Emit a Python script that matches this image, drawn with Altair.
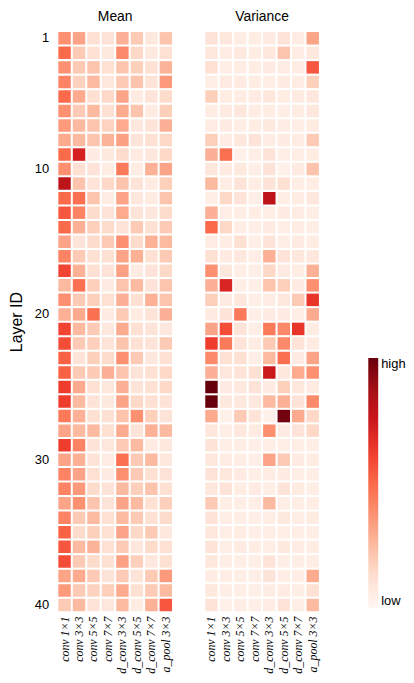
import altair as alt
import pandas as pd

ops = ["conv 1×1", "conv 3×3", "conv 5×5", "conv 7×7",
       "d_conv 3×3", "d_conv 5×5", "d_conv 7×7", "a_pool 3×3"]
layers = list(range(1, 41))
layer_ticks = [1, 10, 20, 30, 40]

# Mean (relative intensity 0..1), one list per operation, layers 1..40
mean_conv1 = [.38,.50,.38,.42,.50,.38,.35,.30,.50,.38, .80,.50,.55,.50,.32,.42,.60,.25,.38,.28,
              .60,.58,.52,.52,.62,.62,.45,.32,.62,.32, .42,.42,.32,.42,.52,.55,.58,.32,.35,.20]
mean_conv3 = [.32,.20,.20,.17,.30,.20,.25,.25,.72,.12, .22,.48,.42,.28,.10,.20,.28,.48,.20,.30,
              .25,.20,.10,.20,.30,.25,.28,.25,.42,.28, .32,.35,.38,.20,.14,.25,.20,.30,.20,.25]
mean_conv5 = [.12,.12,.22,.25,.12,.25,.22,.22,.06,.10, .10,.22,.14,.18,.14,.12,.12,.18,.18,.48,
              .20,.18,.18,.20,.12,.10,.12,.25,.10,.10, .12,.14,.22,.25,.18,.27,.14,.20,.17,.10]
mean_conv7 = [.10,.07,.12,.08,.15,.12,.17,.27,.07,.05, .15,.05,.10,.14,.20,.12,.10,.06,.12,.06,
              .08,.10,.14,.28,.08,.07,.12,.12,.08,.05, .06,.10,.10,.12,.12,.12,.12,.10,.18,.08]
mean_dconv3 = [.28,.40,.22,.20,.32,.30,.30,.33,.14,.45, .22,.32,.30,.10,.38,.32,.33,.22,.28,.20,
               .30,.22,.38,.22,.28,.32,.22,.30,.20,.48, .38,.25,.32,.25,.32,.20,.33,.20,.30,.25]
mean_dconv5 = [.20,.15,.18,.22,.06,.22,.08,.10,.06,.05, .10,.08,.10,.20,.14,.28,.06,.25,.12,.06,
               .12,.12,.20,.10,.10,.15,.38,.10,.25,.20, .20,.18,.25,.20,.15,.08,.18,.10,.12,.05]
mean_dconv7 = [.08,.07,.12,.10,.10,.06,.10,.12,.08,.28, .06,.06,.08,.12,.28,.12,.10,.10,.28,.10,
               .10,.10,.08,.12,.12,.12,.18,.28,.06,.25, .12,.22,.12,.12,.20,.14,.08,.20,.20,.28]
mean_apool3 = [.22,.12,.27,.35,.14,.18,.28,.15,.15,.32, .18,.22,.14,.20,.25,.20,.15,.22,.22,.28,
               .08,.20,.12,.15,.15,.10,.10,.25,.08,.08, .10,.12,.18,.14,.08,.12,.12,.35,.25,.55]

# Variance
var_conv1 = [.10,.08,.12,.04,.18,.05,.05,.18,.28,.08, .25,.04,.28,.50,.05,.12,.38,.28,.18,.06,
             .32,.62,.40,.28,1.0,1.0,.30,.08,.10,.08, .10,.08,.20,.10,.08,.10,.08,.05,.07,.10]
var_conv3 = [.08,.05,.04,.06,.05,.06,.06,.05,.48,.06, .05,.15,.04,.15,.05,.06,.08,.70,.06,.10,
             .58,.45,.12,.08,.06,.07,.03,.04,.04,.05, .08,.10,.04,.04,.04,.04,.04,.04,.04,.03]
var_conv5 = [.05,.07,.05,.06,.05,.08,.04,.08,.03,.07, .10,.10,.04,.04,.12,.08,.04,.04,.08,.45,
             .10,.10,.12,.10,.07,.08,.20,.08,.04,.04, .06,.05,.04,.04,.05,.06,.04,.04,.04,.04]
var_conv7 = [.05,.05,.05,.05,.06,.05,.05,.10,.04,.04, .05,.04,.05,.04,.04,.04,.04,.04,.04,.04,
             .04,.05,.04,.12,.10,.08,.10,.06,.04,.04, .04,.06,.04,.04,.04,.05,.04,.04,.04,.04]
var_dconv3 = [.06,.08,.06,.04,.08,.05,.07,.05,.10,.10, .10,.80,.04,.06,.10,.28,.15,.22,.05,.06,
              .45,.20,.25,.75,.06,.25,.03,.38,.04,.32, .05,.04,.25,.04,.04,.04,.10,.10,.05,.05]
var_dconv5 = [.10,.22,.05,.06,.05,.04,.05,.06,.04,.03, .12,.04,.06,.04,.04,.10,.06,.18,.08,.06,
              .40,.40,.48,.08,.18,.28,.98,.06,.04,.20, .06,.10,.04,.07,.04,.07,.04,.04,.06,.10]
var_dconv7 = [.05,.05,.05,.05,.06,.05,.04,.05,.04,.06, .04,.05,.05,.05,.06,.08,.05,.06,.20,.04,
              .65,.10,.06,.30,.08,.10,.30,.10,.04,.06, .04,.06,.04,.04,.04,.05,.04,.04,.04,.04]
var_apool3 = [.32,.08,.55,.18,.08,.08,.06,.20,.05,.22, .05,.08,.04,.04,.05,.08,.28,.38,.65,.30,
              .05,.06,.32,.38,.06,.40,.15,.15,.04,.05, .04,.04,.05,.06,.04,.05,.05,.30,.12,.25]

# ColorBrewer "Reds" (9 stops, full range from near-white to dark red)
reds_stops = [0, 0.125, 0.25, 0.375, 0.5, 0.625, 0.75, 0.875, 1.0]
reds_colors = ["#fff5f0", "#fee0d2", "#fcbba1", "#fc9272", "#fb6a4a",
               "#ef3b2c", "#cb181d", "#a50f15", "#67000d"]

mean_cols = [mean_conv1, mean_conv3, mean_conv5, mean_conv7,
             mean_dconv3, mean_dconv5, mean_dconv7, mean_apool3]
var_cols = [var_conv1, var_conv3, var_conv5, var_conv7,
            var_dconv3, var_dconv5, var_dconv7, var_apool3]

rows = []
for stat, cols in [("Mean", mean_cols), ("Variance", var_cols)]:
    for op, vals in zip(ops, cols):
        for layer, v in zip(layers, vals):
            rows.append({"stat": stat, "op": op, "layer": layer, "value": v})
df = pd.DataFrame(rows)

SANS = "Liberation Sans"

chart = alt.Chart(df).mark_rect().encode(
    x=alt.X("op:N", sort=ops,
            scale=alt.Scale(paddingInner=0.14, paddingOuter=0.05),
            axis=alt.Axis(title=None, labelAngle=-90, labelFont="Liberation Serif",
                          labelFontStyle="italic", labelFontSize=12, ticks=False,
                          domain=False, labelPadding=4, labelColor="black")),
    y=alt.Y("layer:O", sort=layers,
            scale=alt.Scale(paddingInner=0.14, paddingOuter=0.05),
            axis=alt.Axis(title="Layer ID", values=layer_ticks, ticks=False, domain=False,
                          labelFont=SANS, labelFontSize=13, labelColor="black",
                          labelPadding=9, titleFont=SANS, titleFontSize=16,
                          titleFontWeight="normal", titleColor="black", titlePadding=10)),
    color=alt.Color("value:Q",
                    scale=alt.Scale(domain=reds_stops, range=reds_colors, interpolate="rgb"),
                    legend=alt.Legend(title=None, orient="none", legendX=313, legendY=329,
                                      direction="vertical", gradientLength=252,
                                      gradientThickness=10, values=[0, 1],
                                      labelExpr="datum.value >= 1 ? 'high' : 'low'",
                                      labelFont=SANS, labelFontSize=13, labelColor="black",
                                      labelOffset=3)),
).properties(width=116, height=585).facet(
    column=alt.Column("stat:N", sort=["Mean", "Variance"],
                      header=alt.Header(title=None, labelFont=SANS, labelFontSize=14,
                                        labelColor="black", labelPadding=7)),
    spacing=32,
).configure_view(stroke=None).properties(padding=0)

chart.save("out.html", embed_options={"renderer": "svg", "actions": False})
